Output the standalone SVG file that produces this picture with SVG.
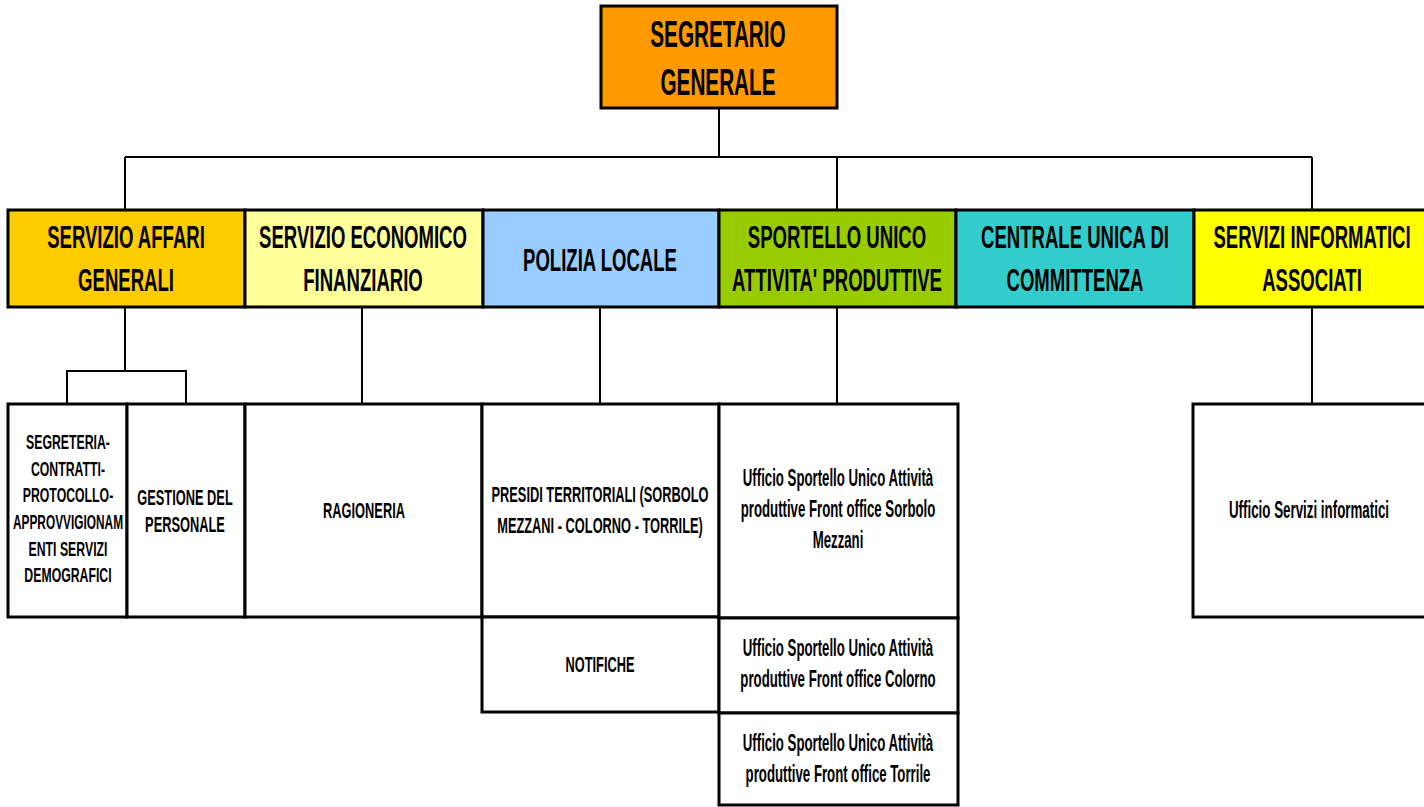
<svg xmlns="http://www.w3.org/2000/svg" width="1424" height="807" viewBox="0 0 1424 807">
<style>
.box{stroke:#000;stroke-width:3}
.conn line{stroke:#000;stroke-width:2}
text{font-family:"Liberation Sans",Arial,sans-serif;font-weight:bold;fill:#000;text-anchor:middle}
.t1{font-size:37px}
.t2{font-size:32px}
.t3{font-size:22px}
.t4{font-size:21px}
.t5{font-size:23px}
</style>
<rect width="1424" height="807" fill="#fff"/>
<g class="conn">
<line x1="719" y1="109" x2="719" y2="157"/>
<line x1="125" y1="157" x2="1312" y2="157"/>
<line x1="125" y1="157" x2="125" y2="210"/>
<line x1="837" y1="157" x2="837" y2="210"/>
<line x1="1312" y1="157" x2="1312" y2="210"/>
<line x1="125" y1="307" x2="125" y2="371"/>
<line x1="67" y1="371" x2="186" y2="371"/>
<line x1="67" y1="370" x2="67" y2="404"/>
<line x1="186" y1="370" x2="186" y2="404"/>
<line x1="362" y1="307" x2="362" y2="404"/>
<line x1="600" y1="307" x2="600" y2="404"/>
<line x1="837" y1="307" x2="837" y2="404"/>
<line x1="1312" y1="307" x2="1312" y2="404"/>
</g>
<g id="segretario">
<rect class="box" x="601" y="6" width="236" height="102" fill="#FF9900"/>
<text class="t1" transform="translate(718,47) scale(0.56,1)">SEGRETARIO</text>
<text class="t1" transform="translate(718,95) scale(0.56,1)">GENERALE</text>
</g>
<g id="affari">
<rect class="box" x="8" y="210" width="237" height="97" fill="#FFCC00"/>
<text class="t2" transform="translate(126,248) scale(0.58,1)">SERVIZIO AFFARI</text>
<text class="t2" transform="translate(126,291) scale(0.58,1)">GENERALI</text>
</g>
<g id="economico">
<rect class="box" x="245" y="210" width="238" height="97" fill="#FFFF99"/>
<text class="t2" transform="translate(363,248) scale(0.58,1)">SERVIZIO ECONOMICO</text>
<text class="t2" transform="translate(363,291) scale(0.58,1)">FINANZIARIO</text>
</g>
<g id="polizia">
<rect class="box" x="483" y="210" width="236" height="97" fill="#99CCFF"/>
<text class="t2" transform="translate(600,271) scale(0.58,1)">POLIZIA LOCALE</text>
</g>
<g id="suap">
<rect class="box" x="719" y="210" width="237" height="97" fill="#99CC00"/>
<text class="t2" transform="translate(837,248) scale(0.58,1)">SPORTELLO UNICO</text>
<text class="t2" transform="translate(837,291) scale(0.58,1)">ATTIVITA' PRODUTTIVE</text>
</g>
<g id="cuc">
<rect class="box" x="956" y="210" width="238" height="97" fill="#33CCCC"/>
<text class="t2" transform="translate(1075,248) scale(0.58,1)">CENTRALE UNICA DI</text>
<text class="t2" transform="translate(1075,291) scale(0.58,1)">COMMITTENZA</text>
</g>
<g id="informatici">
<rect class="box" x="1194" y="210" width="240" height="97" fill="#FFFF00"/>
<text class="t2" transform="translate(1312,248) scale(0.58,1)">SERVIZI INFORMATICI</text>
<text class="t2" transform="translate(1312,291) scale(0.58,1)">ASSOCIATI</text>
</g>
<g id="segreteria">
<rect class="box" x="8" y="404" width="119" height="213" fill="#fff"/>
<text class="t4" transform="translate(68,449) scale(0.585,1)">SEGRETERIA-</text>
<text class="t4" transform="translate(68,476) scale(0.585,1)">CONTRATTI-</text>
<text class="t4" transform="translate(68,502) scale(0.585,1)">PROTOCOLLO-</text>
<text class="t4" transform="translate(68,529) scale(0.565,1)">APPROVVIGIONAM</text>
<text class="t4" transform="translate(68,556) scale(0.585,1)">ENTI SERVIZI</text>
<text class="t4" transform="translate(68,582) scale(0.585,1)">DEMOGRAFICI</text>
</g>
<g id="personale">
<rect class="box" x="127" y="404" width="118" height="213" fill="#fff"/>
<text class="t3" transform="translate(185,505) scale(0.583,1)">GESTIONE DEL</text>
<text class="t3" transform="translate(185,532) scale(0.583,1)">PERSONALE</text>
</g>
<g id="ragioneria">
<rect class="box" x="245" y="404" width="237" height="213" fill="#fff"/>
<text class="t3" transform="translate(364,518) scale(0.583,1)">RAGIONERIA</text>
</g>
<g id="presidi">
<rect class="box" x="482" y="404" width="237" height="213" fill="#fff"/>
<text class="t3" transform="translate(600,502) scale(0.583,1)">PRESIDI TERRITORIALI (SORBOLO</text>
<text class="t3" transform="translate(600,533) scale(0.583,1)">MEZZANI - COLORNO - TORRILE)</text>
</g>
<g id="notifiche">
<rect class="box" x="482" y="617" width="237" height="95" fill="#fff"/>
<text class="t3" transform="translate(600,672) scale(0.583,1)">NOTIFICHE</text>
</g>
<g id="suap-sorbolo">
<rect class="box" x="719" y="404" width="239" height="214" fill="#fff"/>
<text class="t5" transform="translate(838,486) scale(0.575,1)">Ufficio Sportello Unico Attività</text>
<text class="t5" transform="translate(838,517) scale(0.575,1)">produttive Front office Sorbolo</text>
<text class="t5" transform="translate(838,548) scale(0.575,1)">Mezzani</text>
</g>
<g id="suap-colorno">
<rect class="box" x="719" y="618" width="239" height="95" fill="#fff"/>
<text class="t5" transform="translate(838,656) scale(0.575,1)">Ufficio Sportello Unico Attività</text>
<text class="t5" transform="translate(838,687) scale(0.575,1)">produttive Front office Colorno</text>
</g>
<g id="suap-torrile">
<rect class="box" x="719" y="713" width="239" height="92" fill="#fff"/>
<text class="t5" transform="translate(838,751) scale(0.575,1)">Ufficio Sportello Unico Attività</text>
<text class="t5" transform="translate(838,782) scale(0.575,1)">produttive Front office Torrile</text>
</g>
<g id="ufficio-informatici">
<rect class="box" x="1193" y="404" width="240" height="213" fill="#fff"/>
<text class="t5" transform="translate(1309,518) scale(0.58,1)">Ufficio Servizi informatici</text>
</g>
</svg>
